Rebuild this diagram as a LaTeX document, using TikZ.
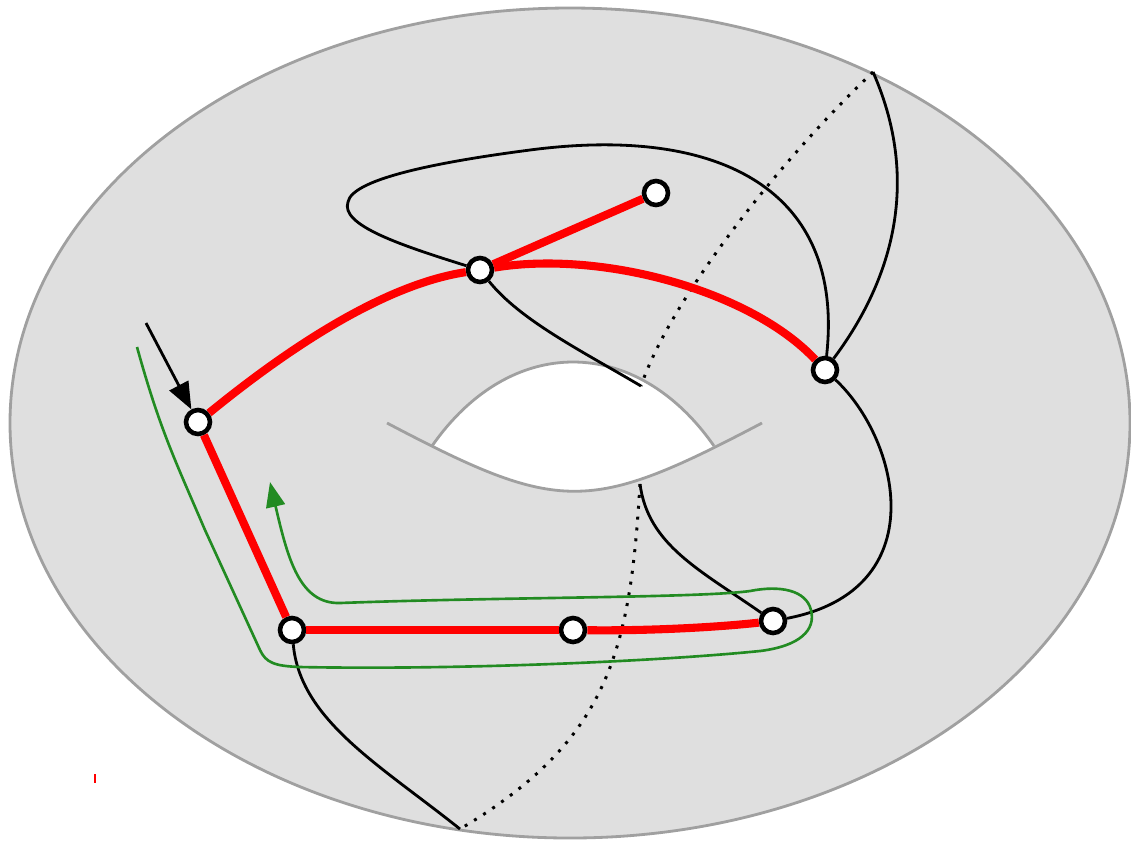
\documentclass[tikz,border=0pt]{standalone}
\usetikzlibrary{arrows.meta}
\definecolor{torusfill}{RGB}{223,223,223}
\definecolor{torusedge}{RGB}{160,160,160}
\definecolor{loopgreen}{RGB}{34,139,34}
\tikzset{
  torus edge/.style={draw=torusedge,line width=1.6pt},
  puncture node/.style={circle,draw,fill=white,line width=2.6pt,
    minimum size=0.48cm,inner sep=0pt},
  red arc/.style={red,line width=4.6pt},
  black arc/.style={line width=1.6pt},
  cut line/.style={line width=1.7pt,dash pattern=on 1.7pt off 4.5pt},
  green loop/.style={loopgreen,line width=1.5pt},
  marker arrow/.style={-{Triangle[length=0.54cm,width=0.42cm]},line width=1.6pt},
  loop arrow/.style={-{Triangle[length=0.5cm,width=0.38cm]}},
}

\begin{document}
\begin{tikzpicture}[x=0.02cm,y=-0.02cm]
  \useasboundingbox (0,0) rectangle (1131,840);

  % The torus and its hole.
  \fill[torusfill] (570,423) ellipse [x radius=560,y radius=415];
  \draw[torus edge] (570,423) ellipse [x radius=560,y radius=415];
  \begin{scope}
    \clip (432,446) .. controls (510,334) and (636,334) .. (714,446)
      -- (714,600) -- (432,600) -- cycle;
    \fill[white] (387,423) .. controls (560,514) and (589,514) .. (762,423)
      -- (762,300) -- (387,300) -- cycle;
  \end{scope}
  \draw[torus edge] (432,446) .. controls (510,334) and (636,334) .. (714,446);
  \draw[torus edge] (387,423) .. controls (560,514) and (589,514) .. (762,423);

  % Free ends on the boundary and on the hole.
  \coordinate (topend) at (873,72);
  \coordinate (botend) at (460,829);
  \coordinate (holetop) at (641,386);
  \coordinate (holebot) at (640,484);
  \coordinate (arrowstart) at (146,323);

  % The punctures.
  \node[puncture node] (vleft) at (198,422) {};
  \node[puncture node] (vtop) at (480,270) {};
  \node[puncture node] (vtip) at (656,193) {};
  \node[puncture node] (vright) at (825,370) {};
  \node[puncture node] (vbl) at (292,630) {};
  \node[puncture node] (vmid) at (573,630) {};
  \node[puncture node] (vbr) at (773,621) {};

  % Dotted curve on the back side.
  \draw[cut line] (topend) .. controls (780,160) and (670,300) .. (holetop);
  \draw[cut line] (holebot) .. controls (630,650) and (610,740) .. (botend);

  % Black arcs.
  \draw[black arc] (vtop) .. controls (400,245) and (340,225) .. (348,202)
    .. controls (352,180) and (430,163) .. (530,150)
    .. controls (720,125) and (845,190) .. (vright);
  \draw[black arc] (vtop) .. controls (520,320) and (580,350) .. (holetop);
  \draw[black arc] (vright) .. controls (885,290) and (925,190) .. (topend);
  \draw[black arc] (vright) .. controls (900,440) and (935,590) .. (vbr);
  \draw[black arc] (holebot) .. controls (648,545) and (700,570) .. (vbr);
  \draw[black arc] (vbl) .. controls (300,720) and (380,765) .. (botend);

  % Green loop around the lower red arcs.
  \draw[green loop,loop arrow] (137,347) .. controls (160,430) and (175,460)
    .. (205,530) -- (260,650) .. controls (266,663) and (275,666) .. (300,667)
    .. controls (450,670) and (650,662) .. (760,651)
    .. controls (800,646) and (816,630) .. (811,610)
    .. controls (806,590) and (780,585) .. (750,591)
    .. controls (700,598) and (500,597) .. (340,603)
    .. controls (300,604) and (288,560) .. (270,482);

  % Red arcs.
  \draw[red arc] (vleft) .. controls (280,355) and (380,285) .. (vtop);
  \draw[red arc] (vtop) .. controls (600,250) and (750,290) .. (vright);
  \draw[red arc] (vtop) -- (vtip);
  \draw[red arc] (vleft) -- (vbl);
  \draw[red arc] (vbl) -- (vmid);
  \draw[red arc] (vmid) .. controls (650,631) and (720,627) .. (vbr);

  \draw[marker arrow] (arrowstart) -- (vleft);
  \draw[red,line width=0.6pt] (95,774) -- (95,783);
\end{tikzpicture}
\end{document}
